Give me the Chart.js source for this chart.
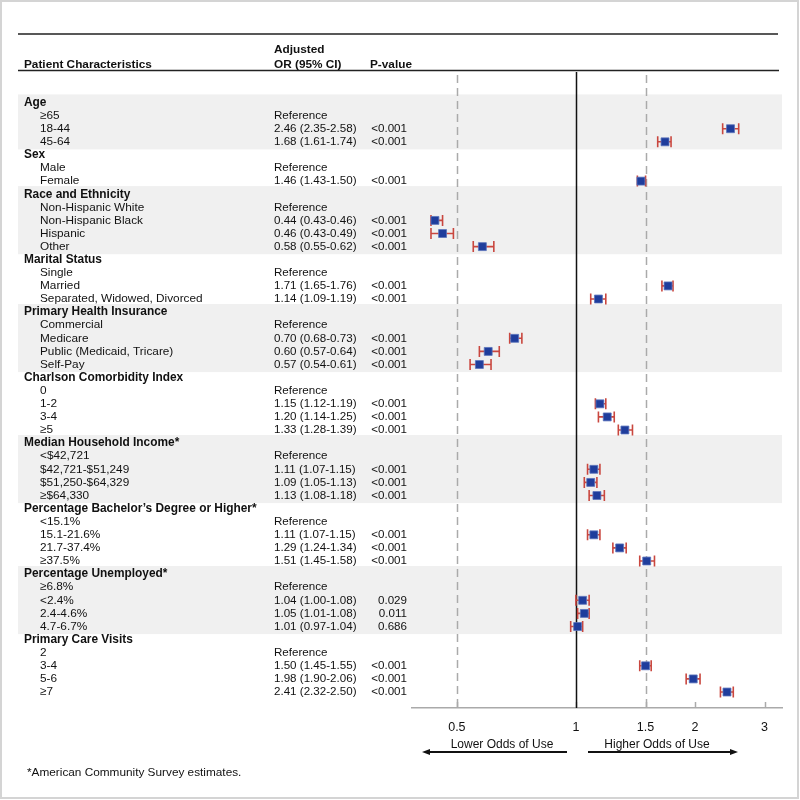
<!DOCTYPE html>
<html>
<head>
<meta charset="utf-8">
<script src="https://cdn.jsdelivr.net/npm/chart.js@4"></script>
<style>
  html, body { margin: 0; padding: 0; background: #fff; }
  #wrap { width: 800px; height: 800px; }
</style>
</head>
<body>
<div id="wrap"><canvas id="forest" width="800" height="800"></canvas></div>
<script>
const CATEGORIES = ['Age', 'Sex', 'Race and Ethnicity', 'Marital Status', 'Primary Health Insurance',
    'Charlson Comorbidity Index', 'Median Household Income*', 'Percentage Bachelor\u2019s Degree or Higher*',
    'Percentage Unemployed*', 'Primary Care Visits'];
const LEVELS = [
    ['\u226565', '18-44', '45-64'],
    ['Male', 'Female'],
    ['Non-Hispanic White', 'Non-Hispanic Black', 'Hispanic', 'Other'],
    ['Single', 'Married', 'Separated, Widowed, Divorced'],
    ['Commercial', 'Medicare', 'Public (Medicaid, Tricare)', 'Self-Pay'],
    ['0', '1-2', '3-4', '\u22655'],
    ['<$42,721', '$42,721-$51,249', '$51,250-$64,329', '\u2265$64,330'],
    ['<15.1%', '15.1-21.6%', '21.7-37.4%', '\u226537.5%'],
    ['\u22656.8%', '<2.4%', '2.4-4.6%', '4.7-6.7%'],
    ['2', '3-4', '5-6', '\u22657']
];
// null = reference level
const OR = [
    [null, 2.46, 1.68],
    [null, 1.46],
    [null, 0.44, 0.46, 0.58],
    [null, 1.71, 1.14],
    [null, 0.70, 0.60, 0.57],
    [null, 1.15, 1.20, 1.33],
    [null, 1.11, 1.09, 1.13],
    [null, 1.11, 1.29, 1.51],
    [null, 1.04, 1.05, 1.01],
    [null, 1.50, 1.98, 2.41]
];
const CI_LOW = [
    [null, 2.35, 1.61],
    [null, 1.43],
    [null, 0.43, 0.43, 0.55],
    [null, 1.65, 1.09],
    [null, 0.68, 0.57, 0.54],
    [null, 1.12, 1.14, 1.28],
    [null, 1.07, 1.05, 1.08],
    [null, 1.07, 1.24, 1.45],
    [null, 1.00, 1.01, 0.97],
    [null, 1.45, 1.90, 2.32]
];
const CI_HIGH = [
    [null, 2.58, 1.74],
    [null, 1.50],
    [null, 0.46, 0.49, 0.62],
    [null, 1.76, 1.19],
    [null, 0.73, 0.64, 0.61],
    [null, 1.19, 1.25, 1.39],
    [null, 1.15, 1.13, 1.18],
    [null, 1.15, 1.34, 1.58],
    [null, 1.08, 1.08, 1.04],
    [null, 1.55, 2.06, 2.50]
];
const P_VALUES = [
    [null, '<0.001', '<0.001'],
    [null, '<0.001'],
    [null, '<0.001', '<0.001', '<0.001'],
    [null, '<0.001', '<0.001'],
    [null, '<0.001', '<0.001', '<0.001'],
    [null, '<0.001', '<0.001', '<0.001'],
    [null, '<0.001', '<0.001', '<0.001'],
    [null, '<0.001', '<0.001', '<0.001'],
    [null, '0.029', '0.011', '0.686'],
    [null, '<0.001', '<0.001', '<0.001']
];
const SHADED = [0, 2, 4, 6, 8];
const X_TICKS = [0.5, 1, 1.5, 2, 3];
const DASHED_REFS = [0.5, 1.5];

// flatten the table into rows
const rows = [];
CATEGORIES.forEach((cat, g) => {
    rows.push({ label: cat, header: true, group: g });
    LEVELS[g].forEach((lv, k) => {
        rows.push({
            label: lv, header: false, group: g,
            or: OR[g][k], lo: CI_LOW[g][k], hi: CI_HIGH[g][k], p: P_VALUES[g][k]
        });
    });
});
const points = [];
rows.forEach((r, i) => { if (r.or != null) points.push({ x: r.or, y: i }); });

const FONT = '"Liberation Sans", Arial, Helvetica, sans-serif';
const fmt = v => v.toFixed(2);

const forestPlugin = {
    id: 'forest',
    beforeDraw(chart) {
        const ctx = chart.ctx, y = chart.scales.y, area = chart.chartArea;
        ctx.save();
        ctx.fillStyle = '#fff';
        ctx.fillRect(0, 0, chart.width, chart.height);
        // shaded groups
        ctx.fillStyle = '#f0f0f0';
        SHADED.forEach(g => {
            const idx = rows.map((r, i) => r.group === g ? i : -1).filter(i => i >= 0);
            const top = y.getPixelForValue(idx[0] - 0.62);
            const bot = y.getPixelForValue(idx[idx.length - 1] + 0.58);
            ctx.fillRect(18, top, area.right - 18, bot - top);
        });
        ctx.restore();
    },
    beforeDatasetsDraw(chart) {
        const ctx = chart.ctx, x = chart.scales.x, y = chart.scales.y, area = chart.chartArea;
        ctx.save();
        // header rules
        ctx.strokeStyle = '#222';
        ctx.lineWidth = 1.5;
        ctx.beginPath();
        ctx.moveTo(18, 34); ctx.lineTo(778, 34);
        ctx.moveTo(18, 70.5); ctx.lineTo(779, 70.5);
        ctx.stroke();

        // header text
        ctx.fillStyle = '#111';
        ctx.textBaseline = 'middle';
        ctx.font = 'bold 11.8px ' + FONT;
        ctx.fillText('Adjusted', 274, 50);
        ctx.fillText('OR (95% CI)', 274, 65);
        ctx.fillText('Patient Characteristics', 24, 65);
        ctx.fillText('P-value', 370, 65);

        // reference lines
        ctx.strokeStyle = '#aaa';
        ctx.lineWidth = 1.5;
        ctx.setLineDash([8, 5]);
        DASHED_REFS.forEach(v => {
            const px = Math.round(x.getPixelForValue(v)) + 0.5;
            ctx.beginPath(); ctx.moveTo(px, 75); ctx.lineTo(px, area.bottom); ctx.stroke();
        });
        ctx.setLineDash([]);
        X_TICKS.forEach(v => {
            const px = Math.round(x.getPixelForValue(v)) + 0.5;
            ctx.beginPath(); ctx.moveTo(px, area.bottom - 6); ctx.lineTo(px, area.bottom); ctx.stroke();
        });
        const one = Math.round(x.getPixelForValue(1)) + 0.5;
        ctx.strokeStyle = '#111';
        ctx.beginPath(); ctx.moveTo(one, 72); ctx.lineTo(one, area.bottom); ctx.stroke();

        // table rows
        rows.forEach((r, i) => {
            const py = y.getPixelForValue(i);
            ctx.fillStyle = '#111';
            ctx.textAlign = 'left';
            if (r.header) {
                ctx.font = 'bold 11.9px ' + FONT;
                ctx.fillText(r.label, 24, py);
                return;
            }
            ctx.font = '11.8px ' + FONT;
            ctx.fillText(r.label, 40, py);
            ctx.font = '11.6px ' + FONT;
            if (r.or == null) {
                ctx.fillText('Reference', 274, py);
                return;
            }
            ctx.fillText(fmt(r.or) + ' (' + fmt(r.lo) + '-' + fmt(r.hi) + ')', 274, py);
            ctx.textAlign = 'right';
            ctx.fillText(r.p, 407, py);

            // confidence interval
            const x0 = x.getPixelForValue(r.lo), x1 = x.getPixelForValue(r.hi);
            ctx.strokeStyle = '#c9473f';
            ctx.lineWidth = 1.6;
            ctx.beginPath();
            ctx.moveTo(x0, py); ctx.lineTo(x1, py);
            ctx.moveTo(x0, py - 5.5); ctx.lineTo(x0, py + 5.5);
            ctx.moveTo(x1, py - 5.5); ctx.lineTo(x1, py + 5.5);
            ctx.stroke();
        });
        ctx.restore();
    },
    afterDraw(chart) {
        const ctx = chart.ctx;
        ctx.save();
        ctx.fillStyle = '#111';
        ctx.strokeStyle = '#111';
        ctx.font = '12px ' + FONT;
        ctx.textAlign = 'center';
        ctx.textBaseline = 'middle';
        ctx.fillText('Lower Odds of Use', 502, 745);
        ctx.fillText('Higher Odds of Use', 657, 745);
        ctx.lineWidth = 2;
        ctx.beginPath();
        ctx.moveTo(567, 752); ctx.lineTo(428, 752);
        ctx.moveTo(588, 752); ctx.lineTo(732, 752);
        ctx.stroke();
        ctx.beginPath();
        ctx.moveTo(422, 752); ctx.lineTo(430, 749); ctx.lineTo(430, 755); ctx.closePath();
        ctx.moveTo(738, 752); ctx.lineTo(730, 749); ctx.lineTo(730, 755); ctx.closePath();
        ctx.fill();

        ctx.textAlign = 'left';
        ctx.font = '11.8px ' + FONT;
        ctx.fillText('*American Community Survey estimates.', 27, 773);

        ctx.strokeStyle = '#d4d4d4';
        ctx.lineWidth = 2;
        ctx.strokeRect(1, 1, 797, 797);
        ctx.restore();
    }
};

new Chart(document.getElementById('forest'), {
    type: 'scatter',
    data: {
        datasets: [{
            data: points,
            pointStyle: 'rect',
            pointRadius: 5.6,
            backgroundColor: '#1f3d9c',
            borderColor: '#5a73bb',
            borderWidth: 0.8
        }]
    },
    options: {
        responsive: false,
        animation: false,
        devicePixelRatio: 1,
        layout: { padding: { left: 412, right: 18, top: 72, bottom: 62 } },
        plugins: { legend: { display: false }, tooltip: { enabled: false } },
        scales: {
            x: {
                type: 'logarithmic',
                min: 0.385,
                max: 3.32,
                afterBuildTicks: s => { s.ticks = X_TICKS.map(v => ({ value: v })); },
                afterFit: s => { s.height = 30; },
                ticks: {
                    autoSkip: false,
                    maxRotation: 0,
                    padding: 12,
                    color: '#111',
                    font: { size: 12.5, family: FONT },
                    callback: v => String(v)
                },
                grid: { display: false, drawTicks: false },
                border: { display: true, color: '#aaa', width: 1.5 }
            },
            y: {
                type: 'linear',
                reverse: true,
                min: -2.33,
                max: 46.22,
                display: false
            }
        }
    },
    plugins: [forestPlugin]
});
</script>
</body>
</html>
